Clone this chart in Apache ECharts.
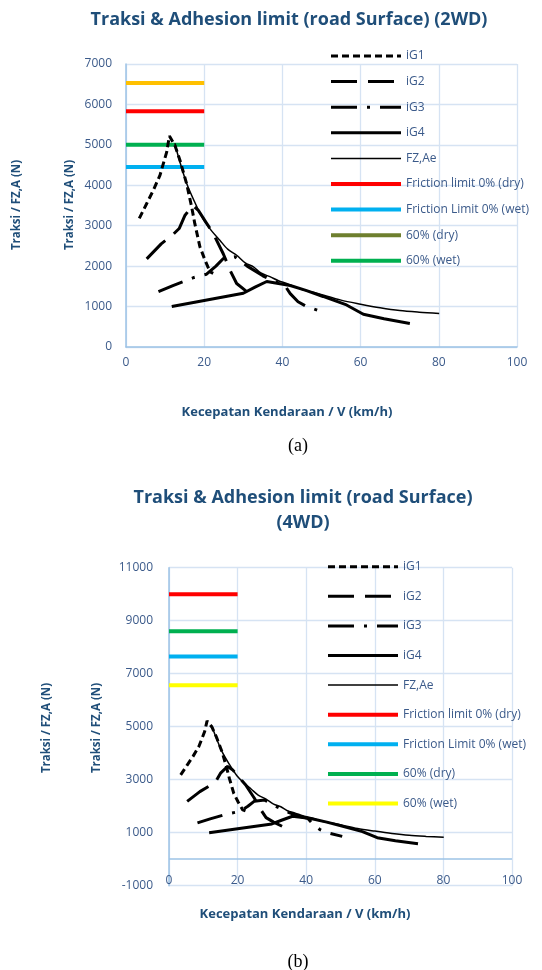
<!DOCTYPE html>
<html><head><meta charset="utf-8">
<script src="https://cdn.jsdelivr.net/npm/echarts@6/dist/echarts.min.js"></script>
<style>
html,body{margin:0;padding:0;background:#fff;}
#a{position:absolute;left:0;top:0;width:542px;height:470px;}
#b{position:absolute;left:0;top:470px;width:542px;height:500px;}
</style>
</head><body>
<div id="a"></div><div id="b"></div>
<script>
// ---- data (speed km/h, force N) ----
const iG1 = [[3.4,3180],[5.3,3550],[7,3880],[8.7,4250],[10.4,4820],[11.1,5220],[12.5,4990],[13.8,4620],[15.5,4040],[16.8,3460],[17.6,3050],[18.9,2480],[20.2,2150],[21.5,1860],[22.3,1820]];
const iG2 = [[5.3,2180],[9,2550],[12,2780],[13.6,2930],[15.1,3260],[17.1,3500],[18.5,3380],[20.5,3080],[22.3,2810],[24.9,2300],[26.6,1900],[28.3,1570],[30.5,1400],[33,1240]];
const iG3 = [[8.3,1370],[12,1520],[17.4,1720],[20.6,1800],[23,2000],[24.9,2190],[27.9,2230],[31,2000],[35,1760],[38,1620],[40.5,1540],[42,1320],[44,1120],[46.2,1000],[50.5,860]];
const iG4 = [[11.7,1000],[20,1150],[30,1330],[33,1480],[36,1620],[39,1570],[42,1520],[46,1400],[50.4,1250],[56.4,1040],[60.7,810],[66,700],[72.6,580]];
const FZ  = [[12.5,5040],[13.5,4670],[15.5,4050],[17.5,3600],[19.8,3150],[22,2860],[24,2640],[26,2420],[28.3,2270],[30.5,2080],[32.6,1980],[34.5,1830],[36.8,1740],[39,1640],[41.1,1570],[45,1420],[48.8,1330],[55,1160],[60,1060],[65,970],[70,900],[75,860],[80.1,830]];
const limitSpan = [0, 20];
const limitNamesA  = ['Adhesion limit', 'Friction limit 0% (dry)', 'Friction Limit 0% (wet)', '60% (dry)', '60% (wet)'];
const limitValuesA = [6530, 5830, 4450, null, 5000];
const limitNamesB  = ['Friction limit 0% (dry)', 'Friction Limit 0% (wet)', '60% (dry)', '60% (wet)'];
const limitValuesB = [10000, 7650, 8600, 6560];
const xTicks = [0, 20, 40, 60, 80, 100];
const legendNames = ['iG1','iG2','iG3','iG4','FZ,Ae','Friction limit 0% (dry)','Friction Limit 0% (wet)','60% (dry)','60% (wet)'];

// ---- styles ----
const FONT = 'Open Sans';
const TXT = '#3b5a8a';
const DARK = '#1f4e79';
const AXIS = '#9dc3e6';
const GRID = '#d6e3f3';
const limitColorsA = {'Adhesion limit':'#ffc000','Friction limit 0% (dry)':'#ff0000','Friction Limit 0% (wet)':'#00b0f0','60% (dry)':'#6e7f2e','60% (wet)':'#00b050'};
const limitColorsB = {'Friction limit 0% (dry)':'#ff0000','Friction Limit 0% (wet)':'#00b0f0','60% (dry)':'#00b050','60% (wet)':'#ffff00'};

function curveSeries() {
  const mk = (name, data, type, width, smooth) => ({
    name, type:'line', data, symbol:'none', smooth: smooth || false,
    lineStyle:{color:'#000', width, type}, itemStyle:{color:'#000'}, z:5
  });
  return [
    mk('iG1', iG1, [7,4], 3),
    mk('iG2', iG2, [26,11], 3),
    mk('iG3', iG3, [26,10,3,10], 3),
    mk('iG4', iG4, 'solid', 3),
    mk('FZ,Ae', FZ, 'solid', 1.5, 0.3)
  ];
}
function limitSeries(names, values, colors) {
  return names.map((n, i) => ({
    name:n, type:'line', symbol:'none', z:3,
    data: values[i] == null ? [] : limitSpan.map(v => [v, values[i]]),
    lineStyle:{color:colors[n], width:4}, itemStyle:{color:colors[n]}
  }));
}
function axes(yMin, yMax, yInt, yMargin, xMargin, xLineShow) {
  return {
    xAxis:{type:'value', min:0, max:100, interval:20,
      axisLine:{show:xLineShow, onZero:false, lineStyle:{color:AXIS, width:1.5}},
      axisTick:{show:false},
      splitLine:{show:true, lineStyle:{color:GRID, width:1.3}},
      axisLabel:{color:TXT, fontFamily:FONT, fontSize:12, margin:xMargin,
        formatter: v => xTicks.includes(v) ? String(v) : ''}},
    yAxis:{type:'value', min:yMin, max:yMax, interval:yInt,
      axisLine:{show:true, lineStyle:{color:AXIS, width:1.5}},
      axisTick:{show:false},
      splitLine:{show:true, lineStyle:{color:GRID, width:1.3}},
      axisLabel:{color:TXT, fontFamily:FONT, fontSize:12, margin:yMargin, formatter: v => String(v)}}
  };
}
function txt(text, x, y, font, color, rot) {
  return {type:'text', x, y, rotation: rot || 0, silent:true,
    style:{text, fill:color, font, align:'center', verticalAlign:'middle'}};
}
const legendBase = {data:legendNames, orient:'vertical', itemWidth:70, itemHeight:14,
  textStyle:{color:TXT, fontFamily:FONT, fontSize:12}, selectedMode:false,
  itemStyle:{opacity:0, borderWidth:0},
  lineStyle:{width:'inherit', type:'inherit', color:'inherit'}};

// ---- chart (a) ----
const chA = echarts.init(document.getElementById('a'), null, {renderer:'canvas'});
const axA = axes(0, 7000, 1000, 14, 10, true);
chA.setOption({
  animation:false,
  grid:{left:126, top:64, width:391, height:283},
  xAxis:axA.xAxis, yAxis:axA.yAxis,
  legend:Object.assign({}, legendBase, {left:324, top:45, itemGap:13.6}),
  graphic:[
    txt('Traksi & Adhesion limit (road Surface) (2WD)', 289, 20, 'bold 18px "Open Sans"', DARK),
    txt('Traksi / FZ,A (N)', 17, 205, 'bold 11.5px "Open Sans"', DARK, Math.PI/2),
    txt('Traksi / FZ,A (N)', 70, 205, 'bold 11.5px "Open Sans"', DARK, Math.PI/2),
    txt('Kecepatan Kendaraan / V (km/h)', 287, 412, 'bold 13px "Open Sans"', DARK),
    txt('(a)', 298, 446, '18px "Liberation Serif"', '#000')
  ],
  series: limitSeries(limitNamesA, limitValuesA, limitColorsA).concat(curveSeries())
});

// ---- chart (b) ----
const chB = echarts.init(document.getElementById('b'), null, {renderer:'canvas'});
const axB = axes(-1000, 11000, 2000, 16, -11, false);
chB.setOption({
  animation:false,
  grid:{left:169, top:97.7, width:343, height:318},
  xAxis:axB.xAxis, yAxis:axB.yAxis,
  legend:Object.assign({}, legendBase, {left:321, top:85.7, itemGap:17.6}),
  graphic:[
    txt('Traksi & Adhesion limit (road Surface)', 303, 28, 'bold 18px "Open Sans"', DARK),
    txt('(4WD)', 303, 53, 'bold 18px "Open Sans"', DARK),
    txt('Traksi / FZ,A (N)', 47, 258, 'bold 11.5px "Open Sans"', DARK, Math.PI/2),
    txt('Traksi / FZ,A (N)', 97, 258, 'bold 11.5px "Open Sans"', DARK, Math.PI/2),
    txt('Kecepatan Kendaraan / V (km/h)', 305, 444, 'bold 13px "Open Sans"', DARK),
    txt('(b)', 298, 492, '18px "Liberation Serif"', '#000')
  ],
  series: [{type:'line', data:[], silent:true,
      markLine:{silent:true, symbol:'none', label:{show:false}, animation:false,
        lineStyle:{color:AXIS, width:1.5, type:'solid'}, data:[{yAxis:0}]}}]
    .concat(limitSeries(limitNamesB, limitValuesB, limitColorsB)).concat(curveSeries())
});
</script>
</body></html>
